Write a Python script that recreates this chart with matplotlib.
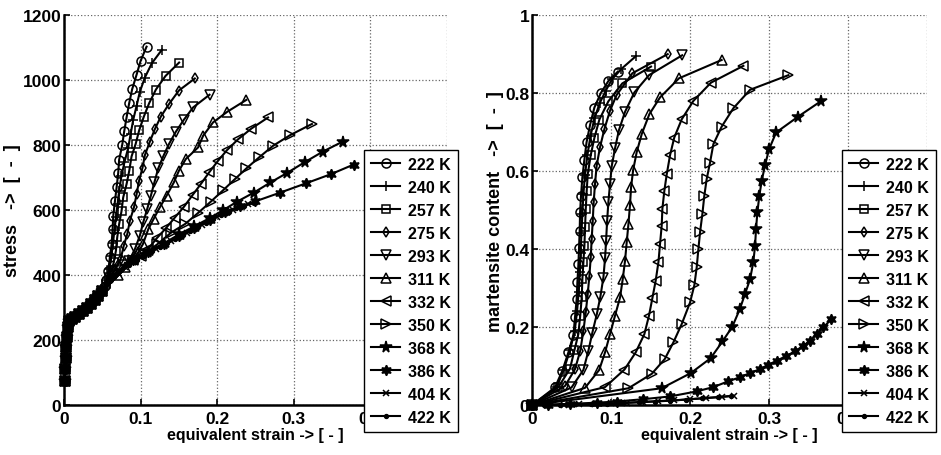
import matplotlib
matplotlib.use("Agg")
import matplotlib.pyplot as plt

plt.rcParams["font.family"] = ["Liberation Sans", "DejaVu Sans"]
plt.rcParams["font.weight"] = "bold"

labels = ["222 K", "240 K", "257 K", "275 K", "293 K", "311 K",
          "332 K", "350 K", "368 K", "386 K", "404 K", "422 K"]

# shared elastic start of every stress curve
base_eps = [0.001, 0.0015, 0.002, 0.003, 0.004, 0.005, 0.007, 0.010, 0.015,
            0.020, 0.025, 0.030, 0.035, 0.040, 0.045, 0.050]
base_sig = [75, 110, 145, 180, 210, 240, 258, 266, 272, 280, 290, 300, 310,
            322, 335, 350]

# stress curves (left panel), continuation after the shared start
eps_s = [
    [0.053, 0.0555, 0.0578, 0.060, 0.0622, 0.0635, 0.0643, 0.0665, 0.0687, 0.0708,
     0.072, 0.076, 0.0786, 0.0817, 0.0851, 0.089, 0.0948, 0.100, 0.1078],
    [0.054, 0.057, 0.0595, 0.062, 0.064, 0.066, 0.068, 0.070, 0.072, 0.075, 0.079,
     0.0838, 0.087, 0.0904, 0.0948, 0.099, 0.1056, 0.1147, 0.128],
    [0.055, 0.059, 0.062, 0.065, 0.0678, 0.0695, 0.072, 0.0752, 0.0773, 0.0817,
     0.0852, 0.0882, 0.0935, 0.0982, 0.1043, 0.1112, 0.120, 0.1326, 0.1503],
    [0.060, 0.066, 0.070, 0.074, 0.078, 0.0826, 0.086, 0.0913, 0.0948, 0.098,
     0.1026, 0.1056, 0.112, 0.1186, 0.1265, 0.137, 0.150, 0.1708],
    [0.065, 0.072, 0.079, 0.085, 0.0926, 0.099, 0.1034, 0.1086, 0.1134, 0.118,
     0.123, 0.1295, 0.137, 0.146, 0.1565, 0.1686, 0.190],
    [0.070, 0.080, 0.090, 0.097, 0.103, 0.110, 0.1173, 0.125, 0.1339, 0.1434,
     0.150, 0.159, 0.1751, 0.1817, 0.1947, 0.2134, 0.238],
    [0.090, 0.100, 0.110, 0.121, 0.133, 0.1447, 0.1569, 0.1678, 0.1786, 0.1895,
     0.2012, 0.213, 0.2273, 0.2447, 0.2664],
    [0.090, 0.105, 0.122, 0.140, 0.158, 0.175, 0.1917, 0.2077, 0.223, 0.238,
     0.2546, 0.273, 0.2955, 0.3237],
    [0.090, 0.110, 0.130, 0.150, 0.170, 0.190, 0.208, 0.226, 0.248, 0.2695, 0.291,
     0.314, 0.338, 0.364],
    [0.090, 0.110, 0.130, 0.150, 0.170, 0.190, 0.210, 0.230, 0.250, 0.2825,
     0.3155, 0.349, 0.378],
    [0.060, 0.070, 0.080, 0.090, 0.100, 0.110, 0.120, 0.130, 0.140, 0.150, 0.160,
     0.170, 0.180, 0.190, 0.200, 0.210, 0.220, 0.230, 0.240, 0.250],
    [0.055, 0.065, 0.075, 0.085, 0.095, 0.105, 0.115, 0.125, 0.135, 0.145, 0.155,
     0.165, 0.175, 0.185, 0.195, 0.205, 0.215, 0.225, 0.235, 0.2475],
]
sig = [
    [365, 385, 413, 457, 495, 542, 582, 627, 670, 714, 755, 800, 842, 885, 929,
     972, 1017, 1059, 1103],
    [368, 390, 420, 460, 500, 540, 580, 620, 660, 705, 748, 791, 834, 878, 921,
     964, 1008, 1052, 1094],
    [372, 395, 415, 439, 475, 516, 557, 598, 639, 680, 721, 765, 803, 846, 888,
     929, 971, 1013, 1054],
    [390, 415, 432, 449, 490, 526, 567, 608, 649, 690, 731, 769, 810, 849, 888,
     926, 968, 1005],
    [400, 415, 430, 444, 480, 521, 562, 603, 644, 685, 728, 765, 803, 841, 878,
     916, 955],
    [400, 425, 450, 470, 495, 541, 574, 608, 644, 685, 721, 757, 793, 829, 870,
     903, 939],
    [445, 460, 480, 513, 544, 577, 611, 646, 680, 716, 752, 785, 818, 851, 885],
    [445, 465, 495, 531, 557, 591, 626, 661, 695, 728, 762, 798, 831, 865],
    [445, 470, 497, 525, 550, 575, 600, 626, 654, 685, 714, 747, 780, 811],
    [445, 470, 495, 520, 545, 570, 595, 612, 627, 654, 682, 711, 740],
    [385, 405, 425, 440, 455, 468, 480, 493, 505, 518, 530, 543, 555, 568, 580,
     590, 600, 610, 618, 626],
    [372, 395, 415, 432, 447, 460, 473, 486, 498, 510, 523, 536, 548, 561, 573,
     585, 595, 605, 613, 622],
]

# martensite curves (right panel)
eps_m = [
    [0, 0.029, 0.0384, 0.046, 0.0524, 0.0544, 0.0565, 0.0574, 0.0587, 0.0595, 0.0603,
     0.0608, 0.062, 0.0637, 0.0662, 0.069, 0.0734, 0.0789, 0.0873, 0.0966, 0.1085],
    [0, 0.031, 0.040, 0.048, 0.054, 0.057, 0.059, 0.0605, 0.0615, 0.0625, 0.0637,
     0.065, 0.067, 0.070, 0.074, 0.079, 0.0858, 0.093, 0.101, 0.113, 0.131],
    [0, 0.0333, 0.048, 0.0536, 0.0586, 0.061, 0.0629, 0.0637, 0.065, 0.0663, 0.0671,
     0.068, 0.0692, 0.0705, 0.0743, 0.079, 0.0852, 0.0966, 0.1143, 0.1506],
    [0, 0.0418, 0.0544, 0.061, 0.065, 0.068, 0.0705, 0.0726, 0.0743, 0.0755, 0.0768,
     0.078, 0.0797, 0.0818, 0.086, 0.0916, 0.0987, 0.107, 0.127, 0.1717],
    [0, 0.050, 0.065, 0.0713, 0.0764, 0.082, 0.0865, 0.0903, 0.0924, 0.0937, 0.095,
     0.0966, 0.0987, 0.1008, 0.105, 0.110, 0.1177, 0.1295, 0.148, 0.190],
    [0, 0.067, 0.085, 0.0924, 0.0987, 0.105, 0.1114, 0.1148, 0.1177, 0.1198, 0.122,
     0.124, 0.1253, 0.128, 0.1325, 0.139, 0.1485, 0.162, 0.186, 0.240],
    [0, 0.0924, 0.117, 0.1312, 0.1422, 0.148, 0.1523, 0.1565, 0.160, 0.162, 0.1641,
     0.165, 0.1675, 0.1705, 0.1747, 0.180, 0.1895, 0.2042, 0.2266, 0.2675],
    [0, 0.122, 0.1515, 0.168, 0.179, 0.1895, 0.200, 0.2055, 0.2084, 0.2105, 0.2127,
     0.2156, 0.218, 0.221, 0.2253, 0.2295, 0.240, 0.2549, 0.276, 0.3245],
    [0, 0.164, 0.201, 0.226, 0.241, 0.2535, 0.263, 0.2696, 0.276, 0.280, 0.2823,
     0.2835, 0.2852, 0.2877, 0.2907, 0.295, 0.300, 0.3089, 0.337, 0.3654],
    [0, 0.020, 0.048, 0.082, 0.107, 0.141, 0.1747, 0.2085, 0.2295, 0.2485, 0.263,
     0.276, 0.2886, 0.299, 0.310, 0.322, 0.333, 0.3434, 0.352, 0.3603, 0.3687, 0.379],
    [0, 0.020, 0.040, 0.060, 0.080, 0.100, 0.120, 0.140, 0.160, 0.180, 0.200, 0.220,
     0.240, 0.255],
    [0, 0.015, 0.035, 0.055, 0.075, 0.095, 0.115, 0.135, 0.155, 0.175, 0.195, 0.215,
     0.235, 0.252],
]
mart = [
    [0, 0.045, 0.088, 0.135, 0.180, 0.225, 0.272, 0.315, 0.361, 0.404, 0.447, 0.494,
     0.537, 0.584, 0.628, 0.674, 0.718, 0.763, 0.801, 0.831, 0.855],
    [0, 0.045, 0.090, 0.140, 0.190, 0.240, 0.290, 0.340, 0.390, 0.440, 0.490, 0.540,
     0.590, 0.640, 0.690, 0.735, 0.775, 0.805, 0.835, 0.862, 0.894],
    [0, 0.046, 0.093, 0.140, 0.182, 0.229, 0.276, 0.323, 0.366, 0.409, 0.456, 0.503,
     0.550, 0.592, 0.641, 0.686, 0.732, 0.779, 0.825, 0.868],
    [0, 0.049, 0.092, 0.139, 0.190, 0.238, 0.285, 0.332, 0.379, 0.426, 0.471, 0.520,
     0.567, 0.614, 0.661, 0.708, 0.755, 0.795, 0.851, 0.900],
    [0, 0.045, 0.090, 0.139, 0.186, 0.233, 0.278, 0.327, 0.376, 0.421, 0.471, 0.520,
     0.567, 0.612, 0.658, 0.705, 0.752, 0.8017, 0.846, 0.897],
    [0, 0.044, 0.090, 0.135, 0.182, 0.229, 0.276, 0.323, 0.370, 0.417, 0.464, 0.513,
     0.558, 0.603, 0.649, 0.696, 0.746, 0.789, 0.838, 0.885],
    [0, 0.046, 0.091, 0.135, 0.182, 0.229, 0.274, 0.319, 0.367, 0.413, 0.460, 0.504,
     0.550, 0.592, 0.641, 0.686, 0.733, 0.780, 0.827, 0.870],
    [0, 0.043, 0.080, 0.118, 0.161, 0.208, 0.263, 0.308, 0.353, 0.399, 0.444, 0.490,
     0.536, 0.579, 0.622, 0.669, 0.714, 0.7615, 0.8086, 0.846],
    [0, 0.043, 0.082, 0.120, 0.163, 0.201, 0.246, 0.285, 0.323, 0.366, 0.408, 0.451,
     0.494, 0.537, 0.575, 0.616, 0.656, 0.699, 0.740, 0.779],
    [0, 0.001, 0.003, 0.006, 0.009, 0.015, 0.022, 0.035, 0.046, 0.061, 0.071, 0.082,
     0.092, 0.103, 0.114, 0.126, 0.138, 0.152, 0.165, 0.182, 0.199, 0.2205],
    [0, 0.0005, 0.001, 0.002, 0.003, 0.004, 0.006, 0.008, 0.010, 0.012, 0.015, 0.018,
     0.021, 0.024],
    [0, 0.0003, 0.0008, 0.0015, 0.0025, 0.0035, 0.005, 0.007, 0.009, 0.011, 0.014,
     0.017, 0.020, 0.023],
]

markers = ["o", "+", "s", "d", "v", "^", "<", ">", "*", (6, 1, 0), "x", "."]
filled = [False] * 8 + [True, True, True, True]
msizes = [6.5, 6.5, 5.5, 5.5, 6.5, 6.5, 6.5, 6.5, 8.5, 7.5, 4, 5.5]


def style_axes(ax, ylim, yticks, yticklabels, ylabel):
    ax.set_xlim(0, 0.5)
    ax.set_ylim(*ylim)
    ax.set_xticks([0, 0.1, 0.2, 0.3, 0.4, 0.5])
    # 0.5 sits under the legend in the original
    ax.set_xticklabels(["0", "0.1", "0.2", "0.3", "0.4", ""])
    ax.set_yticks(yticks)
    ax.set_yticklabels(yticklabels)
    ax.grid(True, linestyle=":", color="0.4", linewidth=0.9)
    for side in ("top", "right"):
        ax.spines[side].set_visible(False)
    for side in ("left", "bottom"):
        ax.spines[side].set_linewidth(1.8)
    ax.tick_params(direction="in", length=4, width=1.2, labelsize=12.5)
    ax.tick_params(axis="x", pad=4)
    ax.tick_params(axis="y", pad=2)
    for t in ax.get_xticklabels() + ax.get_yticklabels():
        t.set_fontweight("bold")
    ax.set_xlabel("equivalent strain -> [ - ]", fontsize=11.5, fontweight="bold",
                  labelpad=1)
    ax.set_ylabel(ylabel, fontsize=13, fontweight="bold", labelpad=1)


def draw(ax, xs, ys):
    for i, lab in enumerate(labels):
        ax.plot(xs[i], ys[i], color="k", lw=1.5, marker=markers[i],
                ms=msizes[i], mec="k", mew=1.1,
                mfc="k" if filled[i] else "none", label=lab, clip_on=False)


fig = plt.figure(figsize=(9.41, 4.56), dpi=100)
ax1 = fig.add_axes([0.068, 0.1096, 0.407, 0.855])
ax2 = fig.add_axes([0.5654, 0.1096, 0.4198, 0.855])

draw(ax1, [base_eps + e for e in eps_s], [base_sig + s for s in sig])
style_axes(ax1, (0, 1200), [0, 200, 400, 600, 800, 1000, 1200],
           ["0", "200", "400", "600", "800", "1000", "1200"],
           "stress   ->  [  -  ]")

draw(ax2, eps_m, mart)
style_axes(ax2, (0, 1), [0, 0.2, 0.4, 0.6, 0.8, 1],
           ["0", "0.2", "0.4", "0.6", "0.8", "1"],
           "martensite content   ->  [  -  ]")

for ax, x0 in ((ax1, 364 / 941), (ax2, 842 / 941)):
    leg = ax.legend(loc="lower left", bbox_to_anchor=(x0, 23 / 456),
                    bbox_transform=fig.transFigure,
                    prop={"weight": "bold", "size": 11.5}, frameon=True,
                    fancybox=False, edgecolor="k", framealpha=1,
                    handlelength=1.8, handletextpad=0.5, labelspacing=0.5,
                    borderpad=0.45, borderaxespad=0)
    leg.get_frame().set_linewidth(1.0)

fig.savefig("out.png", dpi=100)
